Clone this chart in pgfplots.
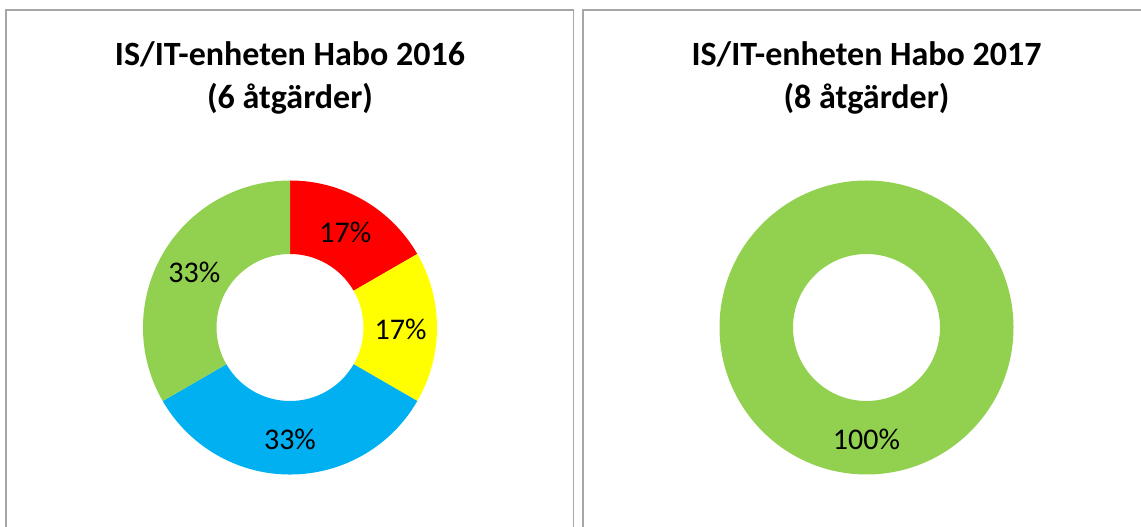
\documentclass[border=0pt]{standalone}
\usepackage{fontspec}
\setmainfont{Carlito}
\usepackage{pgfplots}
\pgfplotsset{compat=1.18}
\definecolor{cRed}{HTML}{FF0000}
\definecolor{cYellow}{HTML}{FFFF00}
\definecolor{cBlue}{HTML}{00B0F0}
\definecolor{cGreen}{HTML}{92D050}
\definecolor{frame}{HTML}{A6A6A6}
% Data (number of actions per status):
% 2016: red 1, yellow 1, blue 2, green 2 (of 6)
% 2017: green 8 (of 8)
\pgfplotsset{donut/.style={hide axis, scale only axis, width=294pt, height=294pt,
  xmin=-1, xmax=1, ymin=-1, ymax=1, anchor=center, clip=false}}
\newcommand{\sector}[3]{% start angle, end angle, colour
  \fill[#3] ($(axis cs:0,0)+(#1:147pt)$) arc[start angle=#1, end angle=#2, radius=147pt]
    -- ($(axis cs:0,0)+(#2:73.5pt)$) arc[start angle=#2, end angle=#1, radius=73.5pt] -- cycle;}
\usetikzlibrary{calc}
\begin{document}
\begin{tikzpicture}[x=1pt,y=1pt]
\useasboundingbox (0,0) rectangle (1141,527);
\clip (0,0) rectangle (1141,527);
\draw[frame, line width=1.5pt] (6,-10) -- (6,517) -- (573.5,517) -- (573.5,-10);
\draw[frame, line width=1.5pt] (583,-10) -- (583,517) -- (1160,517) -- (1160,-10);
\node[font=\fontsize{34}{43}\selectfont\bfseries, align=center] at (290,449) {IS/IT-enheten Habo 2016\\(6 åtgärder)};
\node[font=\fontsize{34}{43}\selectfont\bfseries, align=center] at (866.5,449) {IS/IT-enheten Habo 2017\\(8 åtgärder)};
\begin{axis}[donut, at={(290pt,199.5pt)}]
  % angles: 90 - cumulative share * 360 (clockwise from top)
  \sector{90}{30}{cRed}
  \sector{30}{-30}{cYellow}
  \sector{-30}{-150}{cBlue}
  \sector{-150}{-270}{cGreen}
  \node[font=\fontsize{30}{36}\selectfont] at (axis cs:0.376,0.645) {17\%};
  \node[font=\fontsize{30}{36}\selectfont] at (axis cs:0.752,-0.01) {17\%};
  \node[font=\fontsize{30}{36}\selectfont] at (axis cs:0,-0.76) {33\%};
  \node[font=\fontsize{30}{36}\selectfont] at (axis cs:-0.651,0.376) {33\%};
\end{axis}
\begin{axis}[donut, at={(866.5pt,199.5pt)}]
  \sector{90}{-270}{cGreen}
  \node[font=\fontsize{30}{36}\selectfont] at (axis cs:0,-0.76) {100\%};
\end{axis}
\end{tikzpicture}
\end{document}
